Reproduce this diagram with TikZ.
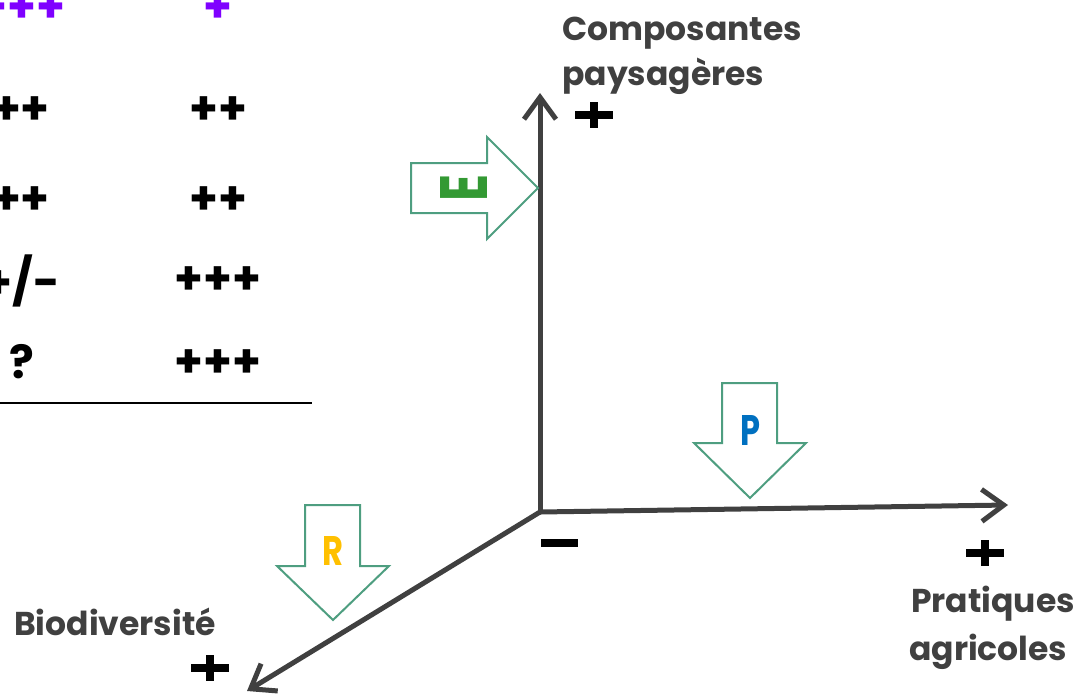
\documentclass[tikz,border=0pt]{standalone}
\usepackage{fontspec}
\setmainfont{Poppins}
\usetikzlibrary{arrows.meta}
\definecolor{axisgray}{HTML}{404040}
\definecolor{labgray}{HTML}{404040}
\definecolor{arrowgreen}{HTML}{4E9E80}
\definecolor{egreen}{HTML}{339933}
\definecolor{pblue}{HTML}{0070C0}
\definecolor{ryellow}{HTML}{FFC000}
\definecolor{myviolet}{HTML}{7F00FF}
\tikzset{
  axis/.style={draw=axisgray, line width=5pt, line cap=round, -{Straight Barb[length=22pt,width=32pt,line width=5pt]}},
  blockarrow/.style={draw=arrowgreen, line width=2pt, fill=white, line join=miter},
  axlabel/.style={font=\fontsize{33}{40}\selectfont\bfseries, text=labgray, inner sep=0pt, anchor=base west},
  cell/.style={font=\fontsize{46}{52}\selectfont\bfseries, inner sep=0pt},
  signmark/.style={line width=8pt, black},
  letter/.style={font=\bfseries, inner sep=0pt}
}
\begin{document}
\begin{tikzpicture}[x=1pt,y=-1pt]
\useasboundingbox (0,0) rectangle (1077,699);
% table
\node[cell, text=myviolet] (c11) at (22,9) {+++};
\node[cell, text=myviolet] (c12) at (218,9) {+};
\node[cell] (c21) at (21,111) {++};
\node[cell] (c22) at (218,111) {++};
\node[cell] (c31) at (21,201) {++};
\node[cell] (c32) at (218,201) {++};
\node[cell] (c41) at (22,281) {+/-};
\node[cell] (c42) at (218,281) {+++};
\node[cell] (c51) at (22,362) {?};
\node[cell] (c52) at (218,364) {+++};
\draw[line width=2.5pt, black] (0,403) -- (312,403);
% axes
\coordinate (O) at (540,512);
\coordinate (Ytip) at (540,93);
\coordinate (Xtip) at (1008,505);
\coordinate (Ztip) at (247,691);
\draw[axis] (O) -- (Ytip);
\draw[axis] (O) -- (Xtip);
\draw[axis] (O) -- (Ztip);
% labels
\node[axlabel] (ly1) at (562,40) {Composantes};
\node[axlabel] (ly2) at (562,85) {paysagères};
\node[axlabel] (lx1) at (911,612) {Pratiques};
\node[axlabel] (lx2) at (909,660) {agricoles};
\node[axlabel] (lz) at (14,635) {Biodiversité};
% plus / minus marks
\draw[signmark] (575,115) -- (613,115) (594,102) -- (594,128);
\draw[signmark] (966,553) -- (1004,553) (985,540) -- (985,566);
\draw[signmark] (191,668) -- (229,668) (210,655) -- (210,681);
\draw[signmark] (541,543) -- (578,543);
% block arrows
\draw[blockarrow] (411,163) -- (487,163) -- (487,137) -- (538,188) -- (487,239) -- (487,213) -- (411,213) -- cycle;
\node[letter, text=egreen, rotate=90] (E) at (464,188) {\resizebox{27pt}{47pt}{E}};
\draw[blockarrow] (722,383) -- (777,383) -- (777,443) -- (806,443) -- (750,498) -- (694,443) -- (722,443) -- cycle;
\node[letter, text=pblue] (P) at (750,430) {\resizebox{20pt}{30pt}{P}};
\draw[blockarrow] (305,505) -- (360,505) -- (360,566) -- (389,566) -- (333,620) -- (277,566) -- (305,566) -- cycle;
\node[letter, text=ryellow] (R) at (333,551) {\resizebox{21pt}{29pt}{R}};
\end{tikzpicture}
\end{document}
